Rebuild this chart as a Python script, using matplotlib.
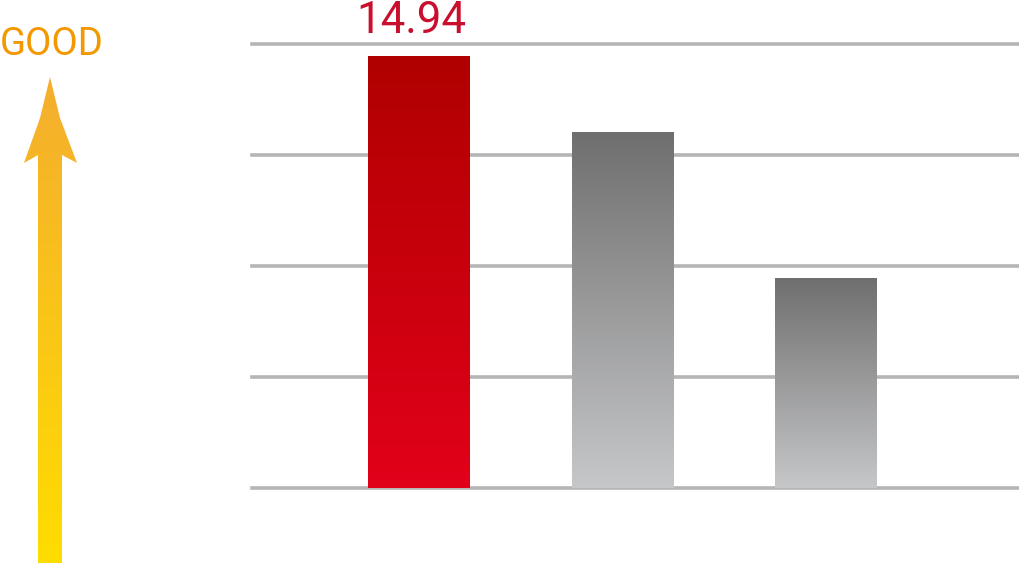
import numpy as np
import matplotlib
matplotlib.use('Agg')
import matplotlib.pyplot as plt
from matplotlib.patches import Polygon
from matplotlib.colors import LinearSegmentedColormap

# datos
categories = ['A', 'B', 'C']
values = [14.94, 12.31, 7.26]
labels = ['14.94', '', '']
grid_levels = [0, 3.84, 7.68, 11.52, 15.36]

plt.rcParams['font.family'] = ['Roboto', 'DejaVu Sans']

fig = plt.figure(figsize=(10.2, 5.88), dpi=100)
fig.patch.set_facecolor('white')

# eje principal de barras
ax = fig.add_axes([252 / 1020, 100 / 588, 768 / 1020, 444 / 588])
ax.set_xlim(-0.817, 2.953)
ax.set_ylim(0, 15.36)
ax.axis('off')

for g in grid_levels:
    ax.axhline(g, color='#b5b5b5', lw=2.6, zorder=1, clip_on=False)

x = np.arange(len(categories))
width = 0.496
bars = ax.bar(x, values, width=width, color='none', zorder=2)

red_cmap = LinearSegmentedColormap.from_list('red', ['#e2001a', '#b00000'])
gray_cmap = LinearSegmentedColormap.from_list('gray', ['#c6c7c9', '#6f6f6f'])
grad = np.linspace(0, 1, 256).reshape(-1, 1)

for i, b in enumerate(bars):
    cmap = red_cmap if i == 0 else gray_cmap
    x0 = b.get_x()
    ax.imshow(grad, cmap=cmap, origin='lower', aspect='auto',
              extent=(x0, x0 + b.get_width(), 0, b.get_height()), zorder=2)
ax.set_xlim(-0.817, 2.953)
ax.set_ylim(0, 15.36)

for i, lab in enumerate(labels):
    if lab:
        ax.annotate(lab, xy=(x[i], values[i]), xytext=(-7, 23),
                    textcoords='offset pixels', ha='center', va='baseline',
                    fontsize=31.5, color='#c8102e', annotation_clip=False)

# flecha "GOOD"
ov = fig.add_axes([0, 0, 1, 1], zorder=-1)
ov.set_xlim(0, 1020)
ov.set_ylim(588, 0)
ov.axis('off')
arrow_pts = [(50, 77), (60, 118), (77, 163), (62, 155), (62, 563),
             (38, 563), (38, 155), (24, 163), (40, 118)]
poly = Polygon(arrow_pts, closed=True, facecolor='none', edgecolor='none')
ov.add_patch(poly)
arrow_cmap = LinearSegmentedColormap.from_list('arrow', ['#f4ae2f', '#ffdd00'])
im = ov.imshow(grad, cmap=arrow_cmap, origin='upper', aspect='auto',
               extent=(20, 80, 563, 77))
im.set_clip_path(poly)
ov.set_xlim(0, 1020)
ov.set_ylim(588, 0)
ov.text(0, 55, 'GOOD', fontsize=27.5, color='#f39800', ha='left', va='baseline')

plt.savefig('out.png', dpi=100, facecolor='white')
